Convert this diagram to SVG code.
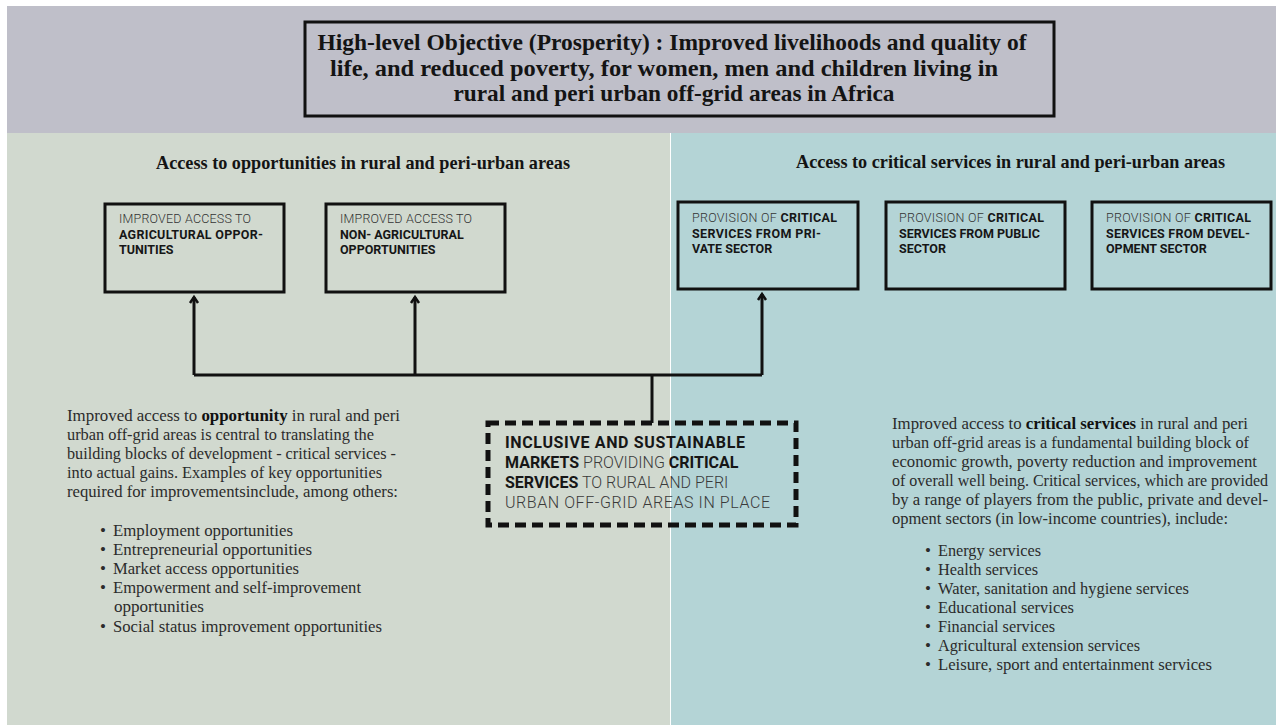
<svg xmlns="http://www.w3.org/2000/svg" width="1276" height="725" viewBox="0 0 1276 725">
<defs>
<style>
.title{font-family:"Liberation Serif","Times New Roman",serif;font-weight:bold;font-size:24px;fill:#141414;text-anchor:middle}
.head{font-family:"Liberation Serif","Times New Roman",serif;font-weight:bold;font-size:19px;fill:#141414}
.box{fill:none;stroke:#111;stroke-width:3}
.bt{font-family:Roboto,"Liberation Sans",sans-serif;font-size:12.5px;fill:#333;font-weight:300}
.b{font-weight:bold;fill:#161616}
.dt{font-family:Roboto,"Liberation Sans",sans-serif;font-size:16px;fill:#3a3a3a;font-weight:300}
.body{font-family:"Liberation Serif","Times New Roman",serif;font-size:17px;fill:#2b2b2b}
.sb{font-weight:bold;fill:#111}
.conn{fill:none;stroke:#111;stroke-width:3}
</style>
<marker id="arr" markerWidth="12" markerHeight="12" viewBox="-8 -6 10 12" refX="0" refY="0" orient="auto" markerUnits="userSpaceOnUse">
<path d="M-6,-4 L0,0 L-6,4" fill="none" stroke="#111" stroke-width="2.5"/>
</marker>
</defs>
<rect x="0" y="0" width="1276" height="725" fill="#ffffff"/>
<rect x="7" y="6" width="1269" height="127" fill="#bfbfc9"/>
<rect x="7" y="133" width="663" height="592" fill="#d1d9cf"/>
<rect x="671" y="133" width="605" height="592" fill="#b4d4d6"/>

<g id="objective">
<rect x="305" y="22" width="749" height="94" fill="none" stroke="#111" stroke-width="3"/>
<text class="title" x="672" y="50" textLength="709" lengthAdjust="spacingAndGlyphs">High-level Objective (Prosperity) : Improved livelihoods and quality of</text>
<text class="title" x="664" y="76" textLength="668" lengthAdjust="spacingAndGlyphs">life, and reduced poverty, for women, men and children living in</text>
<text class="title" x="674" y="101" textLength="441" lengthAdjust="spacingAndGlyphs">rural and peri urban off-grid areas in Africa</text>
</g>

<g id="heading-left">
<text class="head" x="156" y="169" textLength="414" lengthAdjust="spacingAndGlyphs">Access to opportunities in rural and peri-urban areas</text>
</g>
<g id="heading-right">
<text class="head" x="796" y="168" textLength="429" lengthAdjust="spacingAndGlyphs">Access to critical services in rural and peri-urban areas</text>
</g>

<g id="box-agri">
<rect class="box" x="105" y="204" width="179" height="88"/>
<text class="bt" x="119" y="223" textLength="132">IMPROVED ACCESS TO</text>
<text class="bt b" x="119" y="239" textLength="144">AGRICULTURAL OPPOR-</text>
<text class="bt b" x="119" y="254">TUNITIES</text>
</g>
<g id="box-nonagri">
<rect class="box" x="326" y="204" width="179" height="88"/>
<text class="bt" x="340" y="223" textLength="132">IMPROVED ACCESS TO</text>
<text class="bt b" x="340" y="239">NON- AGRICULTURAL</text>
<text class="bt b" x="340" y="254">OPPORTUNITIES</text>
</g>
<g id="box-private">
<rect class="box" x="678" y="202" width="180" height="87"/>
<text class="bt" x="692" y="222" textLength="145">PROVISION OF <tspan class="b">CRITICAL</tspan></text>
<text class="bt b" x="692" y="238" textLength="129">SERVICES FROM PRI-</text>
<text class="bt b" x="692" y="253">VATE SECTOR</text>
</g>
<g id="box-public">
<rect class="box" x="886" y="202" width="179" height="87"/>
<text class="bt" x="899" y="222" textLength="145">PROVISION OF <tspan class="b">CRITICAL</tspan></text>
<text class="bt b" x="899" y="238">SERVICES FROM PUBLIC</text>
<text class="bt b" x="899" y="253">SECTOR</text>
</g>
<g id="box-development">
<rect class="box" x="1092" y="202" width="179" height="87"/>
<text class="bt" x="1106" y="222" textLength="145">PROVISION OF <tspan class="b">CRITICAL</tspan></text>
<text class="bt b" x="1106" y="238" textLength="144">SERVICES FROM DEVEL-</text>
<text class="bt b" x="1106" y="253">OPMENT SECTOR</text>
</g>

<g id="connectors">
<path class="conn" d="M194,375 H762"/>
<path class="conn" d="M652,374 V423"/>
<path class="conn" d="M194,375 V297" marker-end="url(#arr)"/>
<path class="conn" d="M415,375 V297" marker-end="url(#arr)"/>
<path class="conn" d="M762,375 V294" marker-end="url(#arr)"/>
</g>

<g id="markets">
<rect x="488" y="423" width="308" height="102" fill="none" stroke="#111" stroke-width="5" stroke-dasharray="11 6"/>
<text class="dt" x="505" y="448" textLength="240"><tspan class="b">INCLUSIVE AND SUSTAINABLE</tspan></text>
<text class="dt" x="505" y="468"><tspan class="b">MARKETS</tspan> PROVIDING <tspan class="b">CRITICAL</tspan></text>
<text class="dt" x="505" y="488"><tspan class="b">SERVICES</tspan> TO RURAL AND PERI</text>
<text class="dt" x="505" y="508" textLength="265">URBAN OFF-GRID AREAS IN PLACE</text>
</g>

<g id="text-opportunity">
<text class="body" x="67" y="421" textLength="333" lengthAdjust="spacingAndGlyphs">Improved access to <tspan class="sb">opportunity</tspan> in rural and peri</text>
<text class="body" x="67" y="440" textLength="307" lengthAdjust="spacingAndGlyphs">urban off-grid areas is central to translating the</text>
<text class="body" x="67" y="459" textLength="329" lengthAdjust="spacingAndGlyphs">building blocks of development - critical services -</text>
<text class="body" x="67" y="478" textLength="315" lengthAdjust="spacingAndGlyphs">into actual gains. Examples of key opportunities</text>
<text class="body" x="67" y="497" textLength="331" lengthAdjust="spacingAndGlyphs">required for improvementsinclude, among others:</text>
<text class="body" x="100" y="536">•</text><text class="body" x="113" y="536" textLength="180" lengthAdjust="spacingAndGlyphs">Employment opportunities</text>
<text class="body" x="100" y="555">•</text><text class="body" x="113" y="555" textLength="199" lengthAdjust="spacingAndGlyphs">Entrepreneurial opportunities</text>
<text class="body" x="100" y="574">•</text><text class="body" x="113" y="574" textLength="186" lengthAdjust="spacingAndGlyphs">Market access opportunities</text>
<text class="body" x="100" y="593">•</text><text class="body" x="113" y="593" textLength="248" lengthAdjust="spacingAndGlyphs">Empowerment and self-improvement</text>
<text class="body" x="114" y="612" textLength="90" lengthAdjust="spacingAndGlyphs">opportunities</text>
<text class="body" x="100" y="632">•</text><text class="body" x="113" y="632" textLength="269" lengthAdjust="spacingAndGlyphs">Social status improvement opportunities</text>
</g>

<g id="text-services">
<text class="body" x="892" y="429" textLength="356" lengthAdjust="spacingAndGlyphs">Improved access to <tspan class="sb">critical services</tspan> in rural and peri</text>
<text class="body" x="892" y="448" textLength="357" lengthAdjust="spacingAndGlyphs">urban off-grid areas is a fundamental building block of</text>
<text class="body" x="892" y="467" textLength="365" lengthAdjust="spacingAndGlyphs">economic growth, poverty reduction and improvement</text>
<text class="body" x="892" y="486" textLength="376" lengthAdjust="spacingAndGlyphs">of overall well being. Critical services, which are provided</text>
<text class="body" x="892" y="505" textLength="376" lengthAdjust="spacingAndGlyphs">by a range of players from the public, private and devel-</text>
<text class="body" x="892" y="524" textLength="336" lengthAdjust="spacingAndGlyphs">opment sectors (in low-income countries), include:</text>
<text class="body" x="925" y="556">•</text><text class="body" x="938" y="556" textLength="103" lengthAdjust="spacingAndGlyphs">Energy services</text>
<text class="body" x="925" y="575">•</text><text class="body" x="938" y="575" textLength="100" lengthAdjust="spacingAndGlyphs">Health services</text>
<text class="body" x="925" y="594">•</text><text class="body" x="938" y="594" textLength="251" lengthAdjust="spacingAndGlyphs">Water, sanitation and hygiene services</text>
<text class="body" x="925" y="613">•</text><text class="body" x="938" y="613" textLength="136" lengthAdjust="spacingAndGlyphs">Educational services</text>
<text class="body" x="925" y="632">•</text><text class="body" x="938" y="632" textLength="117" lengthAdjust="spacingAndGlyphs">Financial services</text>
<text class="body" x="925" y="651">•</text><text class="body" x="938" y="651" textLength="202" lengthAdjust="spacingAndGlyphs">Agricultural extension services</text>
<text class="body" x="925" y="670">•</text><text class="body" x="938" y="670" textLength="274" lengthAdjust="spacingAndGlyphs">Leisure, sport and entertainment services</text>
</g>
</svg>
